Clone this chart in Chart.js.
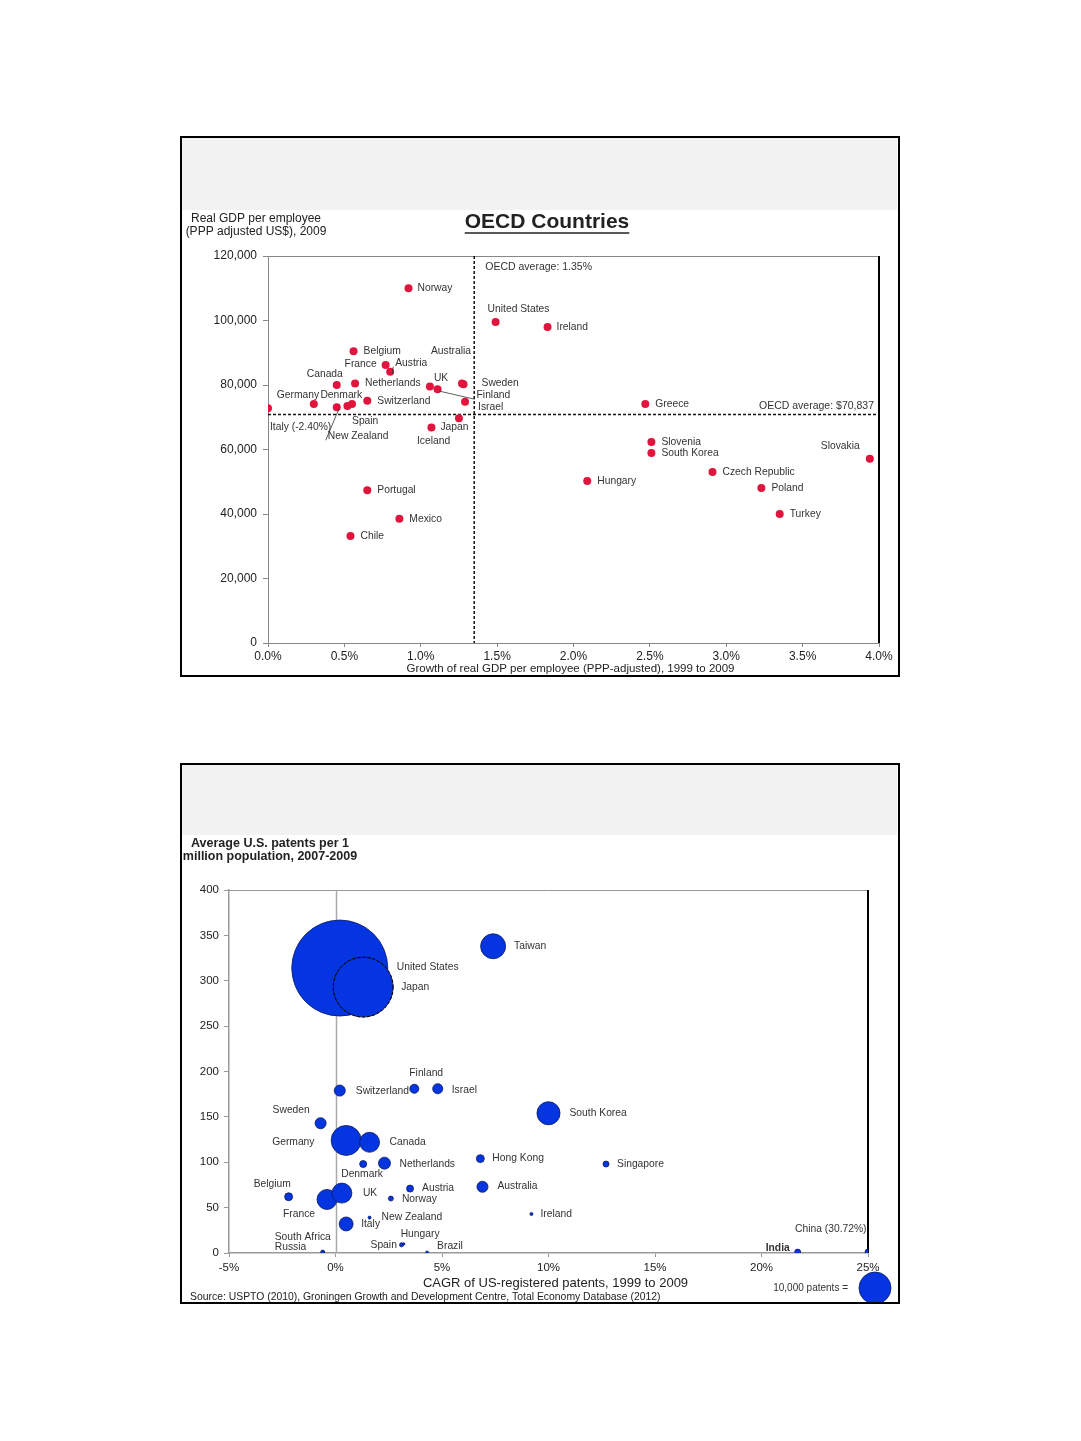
<!DOCTYPE html>
<html><head><meta charset="utf-8">
<script src="https://cdn.jsdelivr.net/npm/chart.js@4.4.1/dist/chart.umd.min.js"></script>
<style>
body{margin:0;background:#fff;width:1081px;height:1441px;position:relative;overflow:hidden;font-family:"Liberation Sans",Arial,sans-serif}
.box{position:absolute;border:2px solid #000;background:#fff;box-sizing:border-box}
.band{position:absolute;background:#f2f2f2}
canvas{position:absolute}
</style></head><body>
<div class="box" style="left:180px;top:136px;width:720px;height:541px"></div>
<div class="band" style="left:182px;top:138px;width:715px;height:72px"></div>
<canvas id="c1" width="716" height="537" style="left:182px;top:138px"></canvas>
<div class="box" style="left:180px;top:763px;width:720px;height:541px"></div>
<div class="band" style="left:182px;top:765px;width:715px;height:70px"></div>
<canvas id="c2" width="716" height="537" style="left:182px;top:765px"></canvas>
<script>
// ---------- Chart 1 data: OECD countries ----------
const oecdCountries = ["Norway","United States","Ireland","Belgium","France","Austria","Canada","Netherlands","UK","Finland","Australia","Sweden","Israel","Germany","Denmark","Switzerland","Italy (-2.40%)","Spain","New Zealand","Japan","Iceland","Greece","Slovenia","South Korea","Hungary","Czech Republic","Poland","Turkey","Slovakia","Portugal","Mexico","Chile"];
const oecdGrowth = [0.92,1.49,1.83,0.56,0.77,0.80,0.45,0.57,1.06,1.11,1.27,1.28,1.29,0.30,0.52,0.65,-2.40,0.55,0.45,1.07,1.25,2.47,2.51,2.51,2.09,2.91,3.23,3.35,3.94,0.65,0.86,0.54];
const oecdGdp = [110000,99500,98000,90500,86200,84100,80000,80500,79500,78700,80500,80200,74800,74100,73500,75100,72800,74100,73100,66800,69700,74100,62300,58900,50200,53000,48100,40000,57100,47400,38500,33200];
const oecdXTicks = [0,0.5,1,1.5,2,2.5,3,3.5,4];
const oecdYTicks = [0,20000,40000,60000,80000,100000,120000];
const oecdAvgGrowth = 1.35;
const oecdAvgGdp = 70837;

// label placement (pixel offsets from the point), kept apart from the data
const oecdLabelOffsets = [[9,0],[-8,-13],[9,0],[10,0],[-41,-1],[5,-9],[-30,-11],[10,0],[4,-8],[39,6],[-31,-32],[18,-1],[13,5],[-37,-9],[-27,-11],[10,0],[2,19],[0,17],[-9,29],[9,0],[-42,23],[10,0],[10,0],[10,0],[10,0],[10,0],[10,0],[10,0],[-49,-13],[10,0],[10,0],[10,0]];
const oecdLeaders = {"Austria":true,"Finland":true,"New Zealand":true};

// ---------- Chart 2 data: patents ----------
const patCountries = ["United States","Japan","Taiwan","Finland","Switzerland","Israel","South Korea","Sweden","Germany","Canada","Denmark","Netherlands","Hong Kong","Singapore","Belgium","France","UK","Austria","Norway","Australia","Ireland","New Zealand","Italy","Spain","Hungary","Brazil","South Africa","Russia","India","China (30.72%)"];
const patCagr = [0.2,1.3,7.4,3.7,0.2,4.8,10.0,-0.7,0.5,1.6,1.3,2.3,6.8,12.7,-2.2,-0.4,0.3,3.5,2.6,6.9,9.2,1.6,0.5,3.1,3.2,4.3,-0.6,-0.6,21.7,30.72];
const patPerMillion = [314,293,338,181,179,181,154,143,124,122,98,99,104,98,62,59,66,71,60,73,43,39,32,9,10,0.5,1,1,1,1];
const patTotal = [90000,35000,6100,800,1200,1000,5200,1200,8800,3900,480,1400,620,350,620,3900,3900,480,240,1200,90,90,1900,160,60,90,90,150,350,350];
const patXTicks = [-5,0,5,10,15,20,25];
const patYTicks = [0,50,100,150,200,250,300,350,400];
const legendPatents = 10000;

const patLabelOffsets = [[57,-1],[38,0],[21,0],[-5,-16],[16,1],[14,1],[21,0],[-48,-13],[-74,2],[20,0],[-22,10],[15,1],[12,0],[11,0],[-35,-13],[-44,15],[21,0],[12,0],[11,1],[15,-1],[9,0],[12,0],[15,0],[-31,0],[-3,-10],[10,-6],[-48,-15],[-48,-5],[-32,-4],[-73,-23]];

const FONT = '"Liberation Sans", Arial, sans-serif';
Chart.defaults.font.family = FONT;
Chart.defaults.color = '#222';

const clampVal = (v, lo, hi) => Math.max(lo, Math.min(hi, v));
const radiusOf = p => 0.16 * Math.sqrt(p);

function drawText(ctx, txt, x, y, font, align, color) {
  ctx.save();
  ctx.font = font; ctx.textAlign = align || 'left'; ctx.textBaseline = 'middle';
  ctx.fillStyle = color || '#222';
  ctx.fillText(txt, x, y);
  ctx.restore();
}

// ---------- Chart 1 ----------
const annot1 = {
  id: 'annot1',
  beforeDatasetsDraw(chart) {
    const {ctx, chartArea: a, scales: {x, y}} = chart;
    ctx.save();
    ctx.strokeStyle = '#888'; ctx.lineWidth = 1;
    ctx.beginPath(); ctx.moveTo(a.left, a.top + 0.5); ctx.lineTo(a.right, a.top + 0.5); ctx.stroke();
    ctx.strokeStyle = '#000'; ctx.lineWidth = 2;
    ctx.beginPath(); ctx.moveTo(a.right, a.top); ctx.lineTo(a.right, a.bottom); ctx.stroke();
    ctx.setLineDash([3, 2]); ctx.lineWidth = 1.5; ctx.strokeStyle = '#111';
    const vx = x.getPixelForValue(oecdAvgGrowth);
    ctx.beginPath(); ctx.moveTo(vx, a.top); ctx.lineTo(vx, a.bottom); ctx.stroke();
    const hy = y.getPixelForValue(oecdAvgGdp);
    ctx.beginPath(); ctx.moveTo(a.left, hy); ctx.lineTo(a.right, hy); ctx.stroke();
    ctx.restore();
    drawText(ctx, 'OECD average: ' + oecdAvgGrowth.toFixed(2) + '%', vx + 11, a.top + 11, '10.5px ' + FONT, 'left', '#333');
    drawText(ctx, 'OECD average: $' + oecdAvgGdp.toLocaleString('en-US'), a.right - 5, hy - 8, '10.5px ' + FONT, 'right', '#333');
  },
  afterDatasetsDraw(chart) {
    const {ctx, chartArea: a} = chart;
    const meta = chart.getDatasetMeta(0);
    meta.data.forEach((el, i) => {
      const [dx, dy] = oecdLabelOffsets[i];
      const name = oecdCountries[i];
      if (oecdLeaders[name]) {
        ctx.save(); ctx.strokeStyle = '#333'; ctx.lineWidth = 0.8;
        ctx.beginPath(); ctx.moveTo(el.x + 2, el.y + 2); ctx.lineTo(el.x + dx - 2, el.y + dy + 4); ctx.stroke(); ctx.restore();
      }
      drawText(ctx, name, el.x + dx, el.y + dy, '10.3px ' + FONT, 'left', '#333');
    });
    const tf = 'bold 21px ' + FONT;
    drawText(ctx, 'OECD Countries', 365, 84, tf, 'center', '#222');
    ctx.save(); ctx.font = tf;
    const w = ctx.measureText('OECD Countries').width;
    ctx.strokeStyle = '#222'; ctx.lineWidth = 1.5;
    ctx.beginPath(); ctx.moveTo(365 - w / 2, 95); ctx.lineTo(365 + w / 2, 95); ctx.stroke(); ctx.restore();
    drawText(ctx, 'Real GDP per employee', 74, 81, '12px ' + FONT, 'center', '#222');
    drawText(ctx, '(PPP adjusted US$), 2009', 74, 94, '12px ' + FONT, 'center', '#222');
    drawText(ctx, 'Growth of real GDP per employee (PPP-adjusted), 1999 to 2009', (a.left + a.right) / 2 - 3, 531, '11.5px ' + FONT, 'center', '#222');
  }
};

new Chart(document.getElementById('c1'), {
  type: 'scatter',
  data: {
    datasets: [{
      data: oecdCountries.map((c, i) => ({x: clampVal(oecdGrowth[i], oecdXTicks[0], oecdXTicks[oecdXTicks.length - 1]), y: oecdGdp[i]})),
      backgroundColor: '#e0143c', borderColor: '#e0143c', pointRadius: 4, pointHoverRadius: 4, borderWidth: 0
    }]
  },
  options: {
    responsive: false, animation: false, devicePixelRatio: 1,
    layout: {autoPadding: false, padding: {left: 0, top: 118, right: 19, bottom: 0}},
    plugins: {legend: {display: false}, tooltip: {enabled: false}},
    scales: {
      x: {
        type: 'linear', min: oecdXTicks[0], max: oecdXTicks[oecdXTicks.length - 1],
        afterFit(s) { s.height = 32; },
        afterBuildTicks(s) { s.ticks = oecdXTicks.map(v => ({value: v})); },
        ticks: {callback: v => v.toFixed(1) + '%', font: {size: 12}, color: '#222', padding: 2, maxRotation: 0, autoSkip: false},
        grid: {drawOnChartArea: false, tickLength: 4, color: '#888'},
        border: {color: '#888', width: 1}
      },
      y: {
        type: 'linear', min: oecdYTicks[0], max: oecdYTicks[oecdYTicks.length - 1],
        afterFit(s) { s.width = 86; },
        afterBuildTicks(s) { s.ticks = oecdYTicks.map(v => ({value: v})); },
        ticks: {callback: v => v.toLocaleString('en-US'), font: {size: 12}, color: '#222', padding: 6, autoSkip: false},
        grid: {drawOnChartArea: false, tickLength: 5, color: '#888'},
        border: {color: '#888', width: 1}
      }
    }
  },
  plugins: [annot1]
});

// ---------- Chart 2 ----------
const annot2 = {
  id: 'annot2',
  beforeDatasetsDraw(chart) {
    const {ctx, chartArea: a, scales: {x}} = chart;
    ctx.save();
    ctx.strokeStyle = '#999'; ctx.lineWidth = 1;
    ctx.beginPath(); ctx.moveTo(a.left, a.top + 0.5); ctx.lineTo(a.right, a.top + 0.5); ctx.stroke();
    const zx = Math.round(x.getPixelForValue(0)) + 0.5;
    ctx.strokeStyle = '#aaa'; ctx.lineWidth = 1.5;
    ctx.beginPath(); ctx.moveTo(zx, a.top); ctx.lineTo(zx, a.bottom); ctx.stroke();
    ctx.strokeStyle = '#000'; ctx.lineWidth = 2;
    ctx.beginPath(); ctx.moveTo(a.right, a.top); ctx.lineTo(a.right, a.bottom); ctx.stroke();
    ctx.restore();
  },
  afterDatasetsDraw(chart) {
    const {ctx, chartArea: a} = chart;
    const meta = chart.getDatasetMeta(0);
    const jp = meta.data[patCountries.indexOf('Japan')];
    ctx.save(); ctx.setLineDash([3, 2]); ctx.strokeStyle = '#000'; ctx.lineWidth = 1;
    ctx.beginPath(); ctx.arc(jp.x, jp.y, jp.options.radius, 0, Math.PI * 2); ctx.stroke(); ctx.restore();
    meta.data.forEach((el, i) => {
      const [dx, dy] = patLabelOffsets[i];
      const name = patCountries[i];
      const f = (name === 'India' ? 'bold 10.3px ' : '10.3px ') + FONT;
      drawText(ctx, name, el.x + dx, el.y + dy, f, 'left', '#333');
    });
    drawText(ctx, 'Average U.S. patents per 1', 88, 79, 'bold 12.5px ' + FONT, 'center', '#222');
    drawText(ctx, 'million population, 2007-2009', 88, 92, 'bold 12.5px ' + FONT, 'center', '#222');
    drawText(ctx, 'CAGR of US-registered patents, 1999 to 2009', (a.left + a.right) / 2 + 7, 518, '13px ' + FONT, 'center', '#222');
    drawText(ctx, 'Source: USPTO (2010), Groningen Growth and Development Centre, Total Economy Database (2012)', 8, 532, '10.4px ' + FONT, 'left', '#222');
    const lr = radiusOf(legendPatents);
    ctx.save(); ctx.fillStyle = '#0535e0'; ctx.strokeStyle = '#0a1a60'; ctx.lineWidth = 0.8;
    ctx.beginPath(); ctx.arc(a.right + 7, a.bottom + 35, lr, 0, Math.PI * 2); ctx.fill(); ctx.stroke(); ctx.restore();
    drawText(ctx, legendPatents.toLocaleString('en-US') + ' patents =', a.right - 20, a.bottom + 35, '10px ' + FONT, 'right', '#333');
  }
};

new Chart(document.getElementById('c2'), {
  type: 'bubble',
  data: {
    datasets: [{
      data: patCountries.map((c, i) => ({x: clampVal(patCagr[i], patXTicks[0], patXTicks[patXTicks.length - 1]), y: patPerMillion[i], r: radiusOf(patTotal[i])})),
      backgroundColor: '#0535e0', borderColor: '#0a1a60', borderWidth: 0.8, hoverRadius: 0, clip: 0
    }]
  },
  options: {
    responsive: false, animation: false, devicePixelRatio: 1,
    layout: {autoPadding: false, padding: {left: 0, top: 125, right: 30, bottom: 0}},
    plugins: {legend: {display: false}, tooltip: {enabled: false}},
    scales: {
      x: {
        type: 'linear', min: patXTicks[0], max: patXTicks[patXTicks.length - 1],
        afterFit(s) { s.height = 49; },
        afterBuildTicks(s) { s.ticks = patXTicks.map(v => ({value: v})); },
        ticks: {callback: v => v + '%', font: {size: 11.5}, color: '#222', padding: 4, maxRotation: 0, autoSkip: false},
        grid: {drawOnChartArea: false, tickLength: 4, color: '#999'},
        border: {color: '#999', width: 1.5}
      },
      y: {
        type: 'linear', min: patYTicks[0], max: patYTicks[patYTicks.length - 1],
        afterFit(s) { s.width = 47; },
        afterBuildTicks(s) { s.ticks = patYTicks.map(v => ({value: v})); },
        ticks: {callback: v => String(v), font: {size: 11.5}, color: '#222', padding: 5, autoSkip: false},
        grid: {drawOnChartArea: false, tickLength: 5, color: '#999'},
        border: {color: '#999', width: 1.5}
      }
    }
  },
  plugins: [annot2]
});
</script>
</body></html>
